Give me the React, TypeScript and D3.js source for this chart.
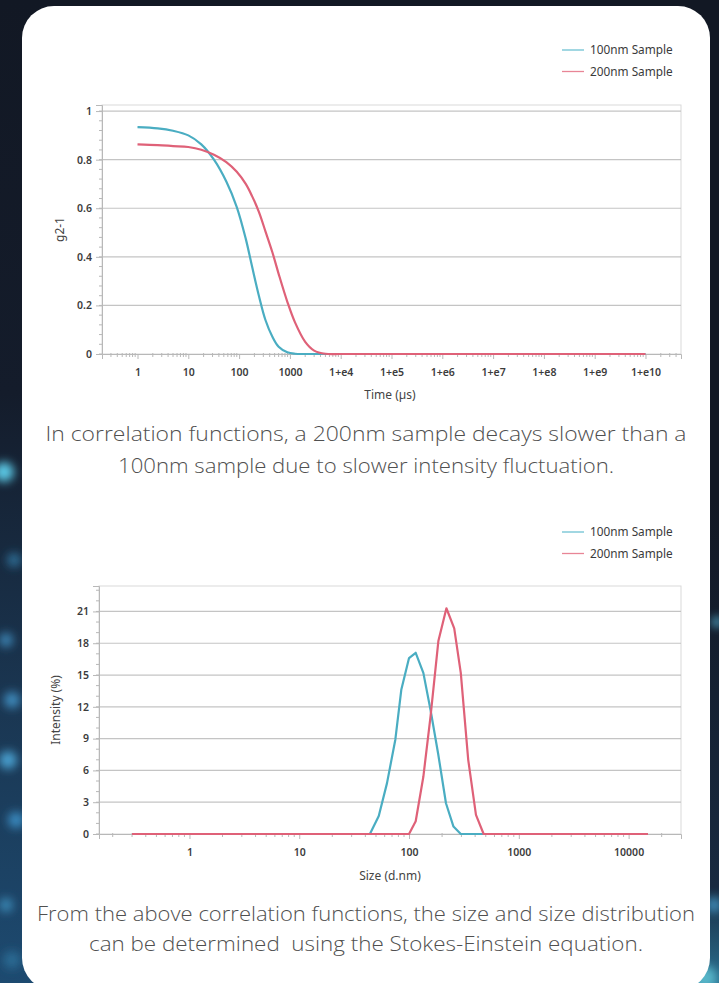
import React, { useRef, useEffect } from "react";
import * as d3 from "d3";

// correlation function (top chart)
const timeUs = [1, 2.5, 5, 10, 18, 32, 56, 90, 135, 180, 245, 330, 450, 600, 890, 1260, 2000, 3000, 5000, 1e4, 1e5, 1e6, 1e7, 1e8, 1e9, 1e10];
const g2Sample100 = [0.934, 0.929, 0.919, 0.9, 0.863, 0.8, 0.71, 0.605, 0.475, 0.36, 0.24, 0.14, 0.072, 0.03, 0.007, 0.001, 0, 0, 0, 0, 0, 0, 0, 0, 0, 0];
const g2Sample200 = [0.863, 0.86, 0.856, 0.852, 0.841, 0.82, 0.79, 0.75, 0.7, 0.65, 0.585, 0.505, 0.42, 0.33, 0.215, 0.13, 0.05, 0.014, 0.001, 0, 0, 0, 0, 0, 0, 0];
const timeTicks = [1, 10, 100, 1000, 1e4, 1e5, 1e6, 1e7, 1e8, 1e9, 1e10];
const g2Ticks = [0, 0.2, 0.4, 0.6, 0.8, 1];

// size distribution (bottom chart)
const size100 = [0.3, 44, 53, 63, 75, 85, 100, 115, 135, 157, 184, 217, 254, 296, 15000];
const intensity100 = [0, 0, 1.7, 4.8, 8.9, 13.6, 16.6, 17.1, 15.2, 11.7, 7.6, 2.9, 0.7, 0, 0];
const size200 = [0.3, 100, 115, 135, 157, 185, 219, 258, 296, 346, 407, 478, 15000];
const intensity200 = [0, 0, 1.2, 5.4, 11.1, 18.2, 21.3, 19.4, 15.2, 7.0, 1.8, 0, 0];
const sizeTicks = [1, 10, 100, 1000, 10000];
const intensityTicks = [0, 3, 6, 9, 12, 15, 18, 21];

const seriesNames = ["100nm Sample", "200nm Sample"];
const BLUE = "#4aadc2";
const RED = "#df6178";
const BLUE_LEGEND = "#6ec2d2";
const RED_LEGEND = "#e88596";

const CHART_FONT = "'Noto Sans', 'DejaVu Sans', sans-serif";
const CAPTION_FONT = "'Open Sans', 'Noto Sans', sans-serif";

interface Series {
  x: number[];
  y: number[];
  color: string;
  curve: d3.CurveFactory;
}

interface ChartSpec {
  left: number;
  right: number;
  top: number;
  bottom: number;
  xDomain: [number, number];
  yDomain: [number, number];
  xTicks: number[];
  xFormat: (v: number) => string;
  yTicks: number[];
  yMinorStep: number;
  yTitle: string;
  xTitle: string;
  yTitleX: number;
  xTitleY: number;
  legendY: number;
  series: Series[];
}

function drawChart(root: d3.Selection<SVGGElement, unknown, null, undefined>, spec: ChartSpec) {
  const { left, right, top, bottom } = spec;
  const x = d3.scaleLog().domain(spec.xDomain).range([left, right]);
  const y = d3.scaleLinear().domain(spec.yDomain).range([bottom, top]);

  const g = root.append("g");

  // frame
  g.append("rect")
    .attr("x", left)
    .attr("y", top)
    .attr("width", right - left)
    .attr("height", bottom - top)
    .attr("fill", "#fff")
    .attr("stroke", "#d9d9d9")
    .attr("stroke-width", 1);

  // gridlines
  g.selectAll(".grid")
    .data(spec.yTicks.filter((t) => t > 0))
    .enter()
    .append("line")
    .attr("x1", left)
    .attr("x2", right)
    .attr("y1", (d) => y(d))
    .attr("y2", (d) => y(d))
    .attr("stroke", "#c4c4c4")
    .attr("stroke-width", 1.2);

  // y minor ticks
  const minor = d3.range(spec.yDomain[0], spec.yDomain[1], spec.yMinorStep);
  g.selectAll(".yminor")
    .data(minor)
    .enter()
    .append("line")
    .attr("x1", left - 3)
    .attr("x2", left)
    .attr("y1", (d) => y(d))
    .attr("y2", (d) => y(d))
    .attr("stroke", "#b8b8b8");

  // y axis
  const yAxis = d3
    .axisLeft(y)
    .tickValues(spec.yTicks)
    .tickFormat((d) => String(d))
    .tickSize(6)
    .tickPadding(4);
  const ya = g.append("g").attr("transform", `translate(${left},0)`).call(yAxis);
  ya.select(".domain").attr("stroke", "#b8b8b8");
  ya.selectAll(".tick line").attr("stroke", "#b8b8b8");
  ya.selectAll("text")
    .attr("font-family", CHART_FONT)
    .attr("font-size", 10.5)
    .attr("font-weight", 600)
    .attr("fill", "#3c3c3c");

  // x minor ticks (2..9 of every decade)
  const xMinor: number[] = [];
  const lo = Math.floor(Math.log10(spec.xDomain[0]));
  const hi = Math.ceil(Math.log10(spec.xDomain[1]));
  for (let e = lo; e <= hi; e++) {
    for (let m = 2; m <= 9; m++) {
      const v = m * Math.pow(10, e);
      if (v > spec.xDomain[0] && v < spec.xDomain[1]) xMinor.push(v);
    }
  }
  g.selectAll(".xminor")
    .data(xMinor)
    .enter()
    .append("line")
    .attr("x1", (d) => x(d))
    .attr("x2", (d) => x(d))
    .attr("y1", bottom - 1)
    .attr("y2", bottom + 3)
    .attr("stroke", "#b8b8b8");

  // x axis
  const xAxis = d3
    .axisBottom(x)
    .tickValues(spec.xTicks)
    .tickFormat((d) => spec.xFormat(d as number))
    .tickSize(5)
    .tickPadding(10);
  const xa = g.append("g").attr("transform", `translate(0,${bottom})`).call(xAxis);
  xa.select(".domain").attr("stroke", "#b8b8b8");
  xa.selectAll(".tick line").attr("stroke", "#b8b8b8");
  xa.selectAll("text")
    .attr("font-family", CHART_FONT)
    .attr("font-size", 10.5)
    .attr("font-weight", 600)
    .attr("fill", "#3c3c3c");

  // series
  spec.series.forEach((s) => {
    const pts = s.x.map((v, i) => [v, s.y[i]] as [number, number]);
    const line = d3
      .line<[number, number]>()
      .x((d) => x(d[0]))
      .y((d) => Math.min(y(d[1]), bottom))
      .curve(s.curve);
    g.append("path")
      .attr("d", line(pts))
      .attr("fill", "none")
      .attr("stroke", s.color)
      .attr("stroke-width", 2.2)
      .attr("stroke-linejoin", "round");
  });

  // titles
  g.append("text")
    .attr("transform", `translate(${spec.yTitleX},${(top + bottom) / 2}) rotate(-90)`)
    .attr("text-anchor", "middle")
    .attr("font-family", CHART_FONT)
    .attr("font-size", 12)
    .attr("fill", "#444")
    .text(spec.yTitle);
  g.append("text")
    .attr("x", 390)
    .attr("y", spec.xTitleY)
    .attr("text-anchor", "middle")
    .attr("font-family", CHART_FONT)
    .attr("font-size", 12)
    .attr("fill", "#444")
    .text(spec.xTitle);

  // legend
  const legendColors = [BLUE_LEGEND, RED_LEGEND];
  seriesNames.forEach((name, i) => {
    const ly = spec.legendY + i * 21.5;
    g.append("line")
      .attr("x1", 562)
      .attr("x2", 584)
      .attr("y1", ly)
      .attr("y2", ly)
      .attr("stroke", legendColors[i])
      .attr("stroke-width", 1.3);
    g.append("text")
      .attr("x", 590)
      .attr("y", ly + 4)
      .attr("font-family", CHART_FONT)
      .attr("font-size", 11.8)
      .attr("fill", "#3a3a3a")
      .text(name);
  });
}

const App: React.FC = () => {
  const svgRef = useRef<SVGSVGElement | null>(null);

  useEffect(() => {
    const svg = d3.select(svgRef.current);
    svg.selectAll("*").remove();

    // page background
    const defs = svg.append("defs");
    defs.append("filter")
      .attr("id", "blur")
      .attr("x", "-50%")
      .attr("y", "-50%")
      .attr("width", "200%")
      .attr("height", "200%")
      .append("feGaussianBlur")
      .attr("stdDeviation", 5);
    const bgGrad = defs.append("linearGradient").attr("id", "bgLeft").attr("x1", 0).attr("y1", 0).attr("x2", 0).attr("y2", 1);
    bgGrad.append("stop").attr("offset", "0%").attr("stop-color", "#121824");
    bgGrad.append("stop").attr("offset", "40%").attr("stop-color", "#141c2b");
    bgGrad.append("stop").attr("offset", "70%").attr("stop-color", "#1a3550");
    bgGrad.append("stop").attr("offset", "100%").attr("stop-color", "#1d4a70");
    const bgRight = defs.append("linearGradient").attr("id", "bgRight").attr("x1", 0).attr("y1", 0).attr("x2", 0).attr("y2", 1);
    bgRight.append("stop").attr("offset", "0%").attr("stop-color", "#121824");
    bgRight.append("stop").attr("offset", "80%").attr("stop-color", "#182a40");
    bgRight.append("stop").attr("offset", "100%").attr("stop-color", "#2a6f8f");

    svg.append("rect").attr("width", 719).attr("height", 983).attr("fill", "#121824");
    svg.append("rect").attr("x", 0).attr("y", 0).attr("width", 40).attr("height", 983).attr("fill", "url(#bgLeft)");
    svg.append("rect").attr("x", 690).attr("y", 500).attr("width", 29).attr("height", 483).attr("fill", "url(#bgRight)");

    const blobs = svg.append("g").attr("filter", "url(#blur)");
    const blobData = [
      { cx: 4, cy: 472, r: 10, c: "#5cc9e6" },
      { cx: 14, cy: 560, r: 7, c: "#2f6f98" },
      { cx: 6, cy: 640, r: 7, c: "#3d86b6" },
      { cx: 12, cy: 700, r: 8, c: "#3f8dc0" },
      { cx: 8, cy: 760, r: 9, c: "#4aa0d0" },
      { cx: 16, cy: 820, r: 8, c: "#3b8cc2" },
      { cx: 6, cy: 905, r: 7, c: "#3a88b5" },
      { cx: 12, cy: 960, r: 9, c: "#2c6a93" },
      { cx: 717, cy: 622, r: 5, c: "#58b8da" },
      { cx: 714, cy: 905, r: 8, c: "#3e88b3" },
      { cx: 705, cy: 978, r: 12, c: "#56b6c9" },
    ];
    blobs.selectAll("circle")
      .data(blobData)
      .enter()
      .append("circle")
      .attr("cx", (d) => d.cx)
      .attr("cy", (d) => d.cy)
      .attr("r", (d) => d.r)
      .attr("fill", (d) => d.c);

    // white card
    svg.append("rect")
      .attr("x", 22)
      .attr("y", 6)
      .attr("width", 688)
      .attr("height", 984)
      .attr("rx", 32)
      .attr("fill", "#fff");

    const root = svg.append("g");

    drawChart(root, {
      left: 102,
      right: 681,
      top: 105,
      bottom: 354,
      xDomain: [0.2, 5e10],
      yDomain: [0, 1.025],
      xTicks: timeTicks,
      xFormat: (v) => (v < 1e4 ? String(v) : `1+e${Math.round(Math.log10(v))}`),
      yTicks: g2Ticks,
      yMinorStep: 0.04,
      yTitle: "g2-1",
      xTitle: "Time (µs)",
      yTitleX: 64,
      xTitleY: 399,
      legendY: 50,
      series: [
        { x: timeUs, y: g2Sample100, color: BLUE, curve: d3.curveCatmullRom.alpha(0.5) },
        { x: timeUs, y: g2Sample200, color: RED, curve: d3.curveCatmullRom.alpha(0.5) },
      ],
    });

    drawChart(root, {
      left: 99,
      right: 681,
      top: 586,
      bottom: 834,
      xDomain: [0.15, 30000],
      yDomain: [0, 23.4],
      xTicks: sizeTicks,
      xFormat: (v) => String(v),
      yTicks: intensityTicks,
      yMinorStep: 1,
      yTitle: "Intensity (%)",
      xTitle: "Size (d.nm)",
      yTitleX: 60,
      xTitleY: 880,
      legendY: 532,
      series: [
        { x: size100, y: intensity100, color: BLUE, curve: d3.curveLinear },
        { x: size200, y: intensity200, color: RED, curve: d3.curveLinear },
      ],
    });

    // captions
    const captions = [
      { y: 441, w: 641, text: "In correlation functions, a 200nm sample decays slower than a" },
      { y: 473, w: 496, text: "100nm sample due to slower intensity fluctuation." },
      { y: 921, w: 658, text: "From the above correlation functions, the size and size distribution" },
      { y: 951, w: 554, text: "can be determined  using the Stokes-Einstein equation." },
    ];
    svg.selectAll(".caption")
      .data(captions)
      .enter()
      .append("text")
      .attr("class", "caption")
      .attr("x", 366)
      .attr("y", (d) => d.y)
      .attr("text-anchor", "middle")
      .attr("font-family", CAPTION_FONT)
      .attr("font-size", 19.5)
      .attr("font-weight", 300)
      .attr("fill", "#505050")
      .attr("textLength", (d) => d.w)
      .attr("lengthAdjust", "spacingAndGlyphs")
      .style("white-space", "pre")
      .text((d) => d.text);
  }, []);

  return (
    <svg
      ref={svgRef}
      width={719}
      height={983}
      style={{ position: "absolute", left: 0, top: 0, display: "block" }}
    />
  );
};

export default App;
